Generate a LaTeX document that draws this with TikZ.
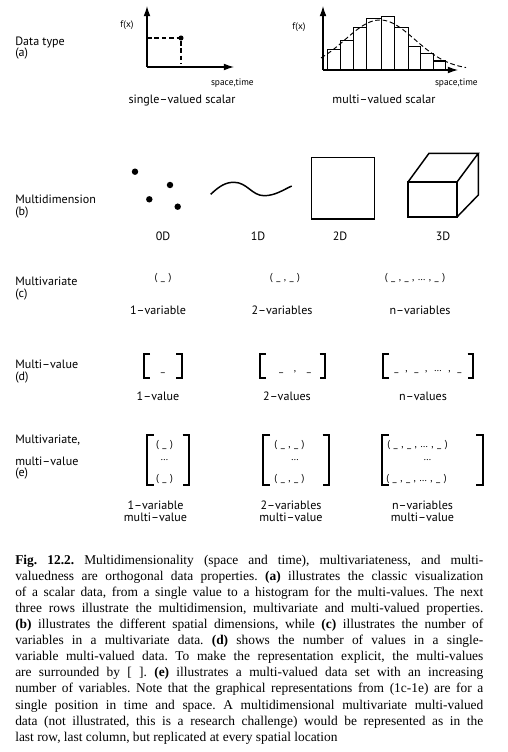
\documentclass[tikz,border=0pt]{standalone}
\usepackage{fontspec}
\setmainfont{Liberation Serif}
\newfontfamily\diagfont[Ligatures=TeX]{PT Sans}
\usetikzlibrary{positioning,arrows.meta}

\newcommand{\tsep}{\hspace{2.6pt}}

\tikzset{
  rowlabel/.style={anchor=base west, inner sep=0pt, font=\diagfont\fontsize{9}{10}\selectfont},
  collabel/.style={anchor=base, inner sep=0pt, font=\diagfont\fontsize{9}{10}\selectfont},
  axislabel/.style={inner sep=0pt, font=\diagfont\fontsize{7}{8}\selectfont},
  tuple/.style={inner sep=0pt, font=\diagfont\fontsize{7.5}{8}\selectfont},
  axis/.style={line width=0.8pt, -{Latex[length=7.5pt,width=5pt]}},
  guide/.style={line width=0.8pt, dash pattern=on 3.5pt off 2pt},
  bar/.style={line width=0.75pt},
  shapeline/.style={line width=1.1pt, line join=miter},
  brk/.style={line width=1.4pt},
}

\begin{document}
\begin{tikzpicture}[x=0.745pt, y=-0.745pt]
  \useasboundingbox (0,0) rectangle (508,752);

  % ---- row labels ----
  \node[rowlabel] (la1) at (15,45.5) {Data type};
  \node[rowlabel] (la2) at (15,56.5) {(a)};
  \node[rowlabel] (lb1) at (15,203.5) {Multidimension};
  \node[rowlabel] (lb2) at (15,215) {(b)};
  \node[rowlabel] (lc1) at (15,285.5) {Multivariate};
  \node[rowlabel] (lc2) at (15,297) {(c)};
  \node[rowlabel] (ld1) at (15,368.5) {Multi--value};
  \node[rowlabel] (ld2) at (15,380) {(d)};
  \node[rowlabel] (le1) at (15,443.5) {Multivariate,};
  \node[rowlabel] (le2) at (15,465.5) {multi--value};
  \node[rowlabel] (le3) at (15,476.5) {(e)};

  % ---- (a) single-valued scalar ----
  \coordinate (oA) at (147,67);
  \coordinate (yA) at (147,6);
  \coordinate (xA) at (234,67);
  \coordinate (pA) at (181,38);
  \draw[axis] (oA) -- (yA);
  \draw[axis] (oA) -- (xA);
  \draw[guide] (147,38) -- (pA) -- (181,64);
  \fill (pA) circle (1.9pt);
  \node[axislabel, anchor=base] (fA) at (127,28) {f(x)};
  \node[axislabel, anchor=base east] (sA) at (254,86) {space,time};
  \node[collabel] (cA) at (182,103.5) {single--valued scalar};

  % ---- (a) multi-valued scalar ----
  \coordinate (oB) at (323,70);
  \coordinate (yB) at (323,6);
  \coordinate (xB) at (458,70);
  \foreach \xa/\xb/\h in {327.3/340.7/49.3, 340.7/353.3/40.7, 353.3/366.3/27.7,
      366.3/381/19, 381/394.7/16.7, 394.7/408/27.7, 408/420/46.7, 420/433/53.3, 433/445/61}
    \draw[bar] (\xa,70) rectangle (\xb,\h);
  \draw[axis] (oB) -- (yB);
  \draw[axis] (oB) -- (xB);
  \draw[guide, line width=0.7pt] plot[domain=321:466, samples=60]
    (\x, {70 - 50*exp(-((\x-380)*(\x-380))/2450)});
  \node[axislabel, anchor=base] (fB) at (299,30) {f(x)};
  \node[axislabel, anchor=base east] (sB) at (478,86) {space,time};
  \node[collabel] (cB) at (384,103.5) {multi--valued scalar};

  % ---- (b) dimensions ----
  \foreach \px/\py in {135/171.7, 170/185, 149.3/199.3, 177.7/206.7}
    \fill (\px,\py) circle (2.4pt);
  \draw[shapeline] (210.7,194.3) .. controls (220,185.5) and (226,182.3) .. (234,182.3)
    .. controls (247,182.3) and (252,195.7) .. (264,195.7)
    .. controls (275,195.7) and (283,190) .. (291.7,186);
  \draw[shapeline] (311.7,157.3) rectangle (374.3,219);
  \draw[shapeline] (408,182) rectangle (457,217);
  \draw[shapeline] (408,182) -- (429,153.3) -- (478.3,153.3) -- (457,182)
    (478.3,153.3) -- (478.3,195) -- (457,217);
  \node[collabel] (d0) at (163,240.5) {0D};
  \node[collabel] (d1) at (258,240.5) {1D};
  \node[collabel] (d2) at (340,240.5) {2D};
  \node[collabel] (d3) at (443,240.5) {3D};

  % ---- (c) multivariate ----
  \node[tuple] (tc1) at (163,278) {(\tsep\_\tsep)};
  \node[tuple] (tc2) at (285,278) {(\tsep\_\tsep,\tsep\_\tsep)};
  \node[tuple] (tc3) at (415,278) {(\tsep\_\tsep,\tsep\_\tsep,\tsep…\tsep,\tsep\_\tsep)};
  \node[collabel] (vc1) at (158,314.5) {1--variable};
  \node[collabel] (vc2) at (282,314.5) {2--variables};
  \node[collabel] (vc3) at (420,314.5) {n--variables};

  % ---- (d) multi-value ----
  \draw[brk] (150,354) -- (144.3,354) -- (144.3,378) -- (150,378);
  \draw[brk] (176,354) -- (181.7,354) -- (181.7,378) -- (176,378);
  \draw[brk] (265.5,354) -- (260,354) -- (260,378) -- (265.5,378);
  \draw[brk] (319.5,354) -- (325,354) -- (325,378) -- (319.5,378);
  \draw[brk] (389,354) -- (383.3,354) -- (383.3,378) -- (389,378);
  \draw[brk] (467.5,354) -- (473.3,354) -- (473.3,378) -- (467.5,378);
  \node[tuple, anchor=base] (td1) at (163,371) {\_};
  \node[tuple, anchor=base] (td2) at (295,371) {\_\hspace{8pt},\hspace{8pt}\_};
  \node[tuple, anchor=base] (td3) at (428,371)
    {\_\hspace{5pt},\hspace{5pt}\_\hspace{5pt},\hspace{5pt}…\hspace{5pt},\hspace{5pt}\_};
  \node[collabel] (vd1) at (158,400.5) {1--value};
  \node[collabel] (vd2) at (287,400.5) {2--values};
  \node[collabel] (vd3) at (423,400.5) {n--values};

  % ---- (e) multivariate, multi-value ----
  \draw[brk] (153.5,435) -- (146.7,435) -- (146.7,485) -- (153.5,485);
  \draw[brk] (182.5,435) -- (189.3,435) -- (189.3,485) -- (182.5,485);
  \draw[brk] (270,435) -- (263.3,435) -- (263.3,485) -- (270,485);
  \draw[brk] (322.5,435) -- (329.3,435) -- (329.3,485) -- (322.5,485);
  \draw[brk] (388.5,435) -- (381.7,435) -- (381.7,485) -- (388.5,485);
  \draw[brk] (476,435) -- (482.7,435) -- (482.7,485) -- (476,485);
  \node[tuple] (te1a) at (164.5,445) {(\tsep\_\tsep)};
  \node[tuple] (te1b) at (164.5,460) {…};
  \node[tuple] (te1c) at (164.5,479) {(\tsep\_\tsep)};
  \node[tuple] (te2a) at (289.5,445) {(\tsep\_\tsep,\tsep\_\tsep)};
  \node[tuple] (te2b) at (295,460) {…};
  \node[tuple] (te2c) at (289.5,479) {(\tsep\_\tsep,\tsep\_\tsep)};
  \node[tuple] (te3a) at (417.5,445) {(\tsep\_\tsep,\tsep\_\tsep,\tsep…\tsep,\tsep\_\tsep)};
  \node[tuple] (te3b) at (427.5,460) {…};
  \node[tuple] (te3c) at (416.5,479) {(\tsep\_\tsep,\tsep\_\tsep,\tsep…\tsep,\tsep\_\tsep)};
  \node[collabel] (ve1a) at (155.5,509.5) {1--variable};
  \node[collabel] (ve1b) at (155.5,521.5) {multi--value};
  \node[collabel] (ve2a) at (291,509.5) {2--variables};
  \node[collabel] (ve2b) at (291,521.5) {multi--value};
  \node[collabel] (ve3a) at (422.5,509.5) {n--variables};
  \node[collabel] (ve3b) at (422.5,521.5) {multi--value};

  % ---- caption ----
  \node[anchor=north west, inner sep=0pt, text width=348.7pt, align=justify,
        font=\fontsize{10}{12}\selectfont\frenchspacing] (caption) at (15,554.5)
  {\textbf{Fig. 12.2.} Multidimensionality (space and time), multivariateness, and multi-\linebreak
   valuedness are orthogonal data properties. \textbf{(a)} illustrates the classic visualization\linebreak
   of a scalar data, from a single value to a histogram for the multi-values. The next\linebreak
   three rows illustrate the multidimension, multivariate and multi-valued properties.\linebreak
   \textbf{(b)} illustrates the different spatial dimensions, while \textbf{(c)} illustrates the number of\linebreak
   variables in a multivariate data. \textbf{(d)} shows the number of values in a single-\linebreak
   variable multi-valued data. To make the representation explicit, the multi-values\linebreak
   are surrounded by [ ]. \textbf{(e)} illustrates a multi-valued data set with an increasing\linebreak
   number of variables. Note that the graphical representations from (1c-1e) are for a\linebreak
   single position in time and space. A multidimensional multivariate multi-valued\linebreak
   data (not illustrated, this is a research challenge) would be represented as in the\linebreak
   last row, last column, but replicated at every spatial location};
\end{tikzpicture}
\end{document}
